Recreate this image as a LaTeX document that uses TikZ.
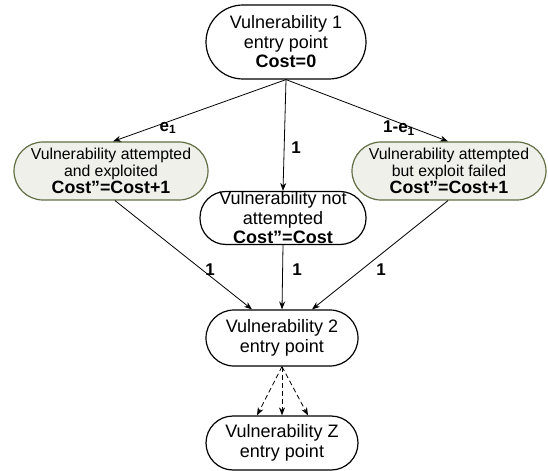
\documentclass[tikz,border=0pt]{standalone}
\usepackage{fontspec}
\setmainfont{Liberation Sans}
\usetikzlibrary{arrows.meta,calc}
\definecolor{sidefill}{RGB}{239,240,234}
\definecolor{sideedge}{RGB}{98,110,68}
\tikzset{
  stad/.style={draw=black, line width=1.2bp, rounded corners=#1, align=center, inner sep=0pt, fill=white},
  stad/.default=26bp,
  side/.style={draw=sideedge, fill=sidefill, line width=1.2bp, rounded corners=29bp, align=center, inner sep=0pt,
     minimum width=194bp, minimum height=58bp, font=\fontsize{15.8bp}{16.5bp}\selectfont},
  big/.style={font=\fontsize{18bp}{19.5bp}\selectfont},
  conn/.style={line width=0.8bp, -{Stealth[length=8bp,width=6bp]}},
  dconn/.style={line width=0.8bp, dashed, dash pattern=on 5bp off 3bp, -{Stealth[length=8bp,width=6bp]}},
  lbl/.style={font=\fontsize{17bp}{18bp}\selectfont\bfseries, inner sep=0pt}
}
\begin{document}
\begin{tikzpicture}[x=1bp,y=-1bp]
\useasboundingbox (0,0) rectangle (548,471);
\node[stad=37bp, big, minimum width=160bp, minimum height=74bp] (v1) at (286,42)
  {Vulnerability 1\\entry point\\\textbf{Cost=0}};
\node[side] (att) at (111,171)
  {Vulnerability attempted\\and exploited\\[1bp]{\fontsize{17.8bp}{18bp}\selectfont\bfseries Cost''=Cost+1}};
\node[side] (fail) at (449,171)
  {Vulnerability attempted\\but exploit failed\\[1bp]{\fontsize{17.8bp}{18bp}\selectfont\bfseries Cost''=Cost+1}};
\node[stad=26bp, big, minimum width=166bp, minimum height=53bp] (na) at (283,218)
  {Vulnerability not\\attempted\\\textbf{Cost''=Cost}};
\node[stad=28bp, big, minimum width=152bp, minimum height=56bp] (v2) at (282,338)
  {Vulnerability 2\\entry point};
\node[stad=27bp, big, minimum width=152bp, minimum height=54bp] (vz) at (282,443)
  {Vulnerability Z\\entry point};

\draw[conn] (v1.south) -- ($(att.north)+(2,0)$);
\draw[conn] (v1.south) -- ($(fail.north)+(-1,0)$);
\draw[conn] (v1.south) -- (na.north);
\draw[conn] ($(att.south)+(4,0)$) -- ($(v2.north)+(-30,0)$);
\draw[conn] (na.south) -- (v2.north);
\draw[conn] ($(fail.south)+(-1,0)$) -- ($(v2.north)+(30,0)$);
\draw[dconn] (v2.south) -- ($(vz.north)+(-25,0)$);
\draw[dconn] (v2.south) -- (vz.north);
\draw[dconn] (v2.south) -- ($(vz.north)+(26,0)$);

\node[lbl] (l1) at (168,128) {e$_{\mathbf{1}}$};
\node[lbl] (l2) at (399,128) {1-e$_{\mathbf{1}}$};
\node[lbl] (l3) at (296,148) {1};
\node[lbl] (l4) at (210,270) {1};
\node[lbl] (l5) at (297,270) {1};
\node[lbl] (l6) at (381,270) {1};
\end{tikzpicture}
\end{document}
